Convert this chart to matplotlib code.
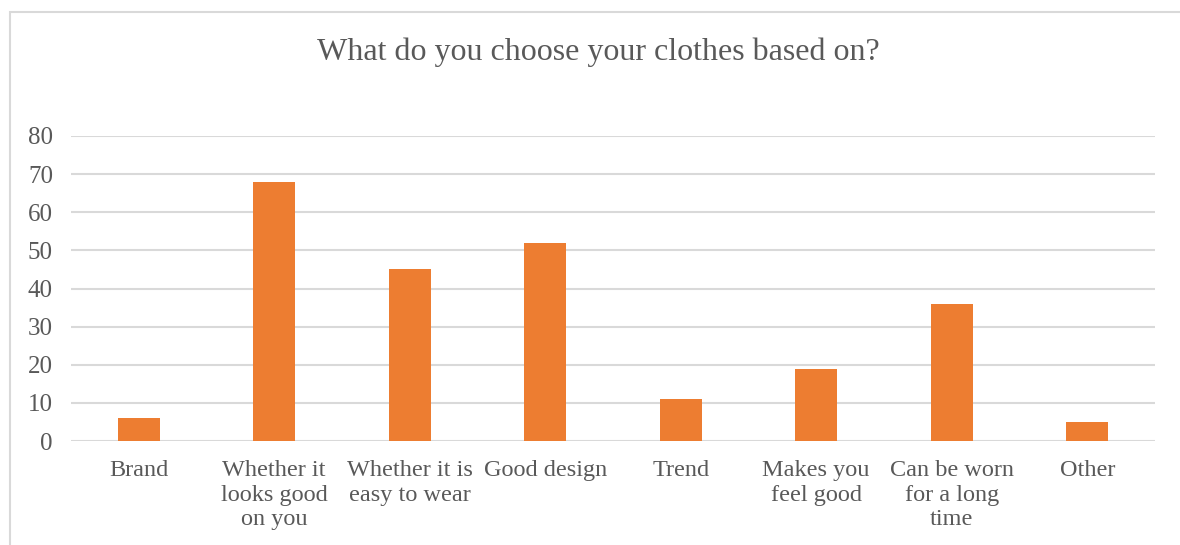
import matplotlib
matplotlib.use('Agg')
import matplotlib.pyplot as plt
from matplotlib.patches import Rectangle

categories = ["Brand", "Whether it\nlooks good\non you", "Whether it is\neasy to wear",
              "Good design", "Trend", "Makes you\nfeel good",
              "Can be worn\nfor a long\ntime", "Other"]
counts = [6, 68, 45, 52, 11, 19, 36, 5]
yticks = [0, 10, 20, 30, 40, 50, 60, 70, 80]

text_color = "#595959"
grid_color = "#D9D9D9"
bar_color = "#ED7D31"

plt.rcParams['font.family'] = ['Liberation Serif', 'DejaVu Serif']

fig = plt.figure(figsize=(11.8, 5.45), dpi=100)
# chart outline (right/bottom edges run past the canvas)
fig.patches.append(Rectangle((10 / 1180, -0.1), 1.2, 1 - 12 / 545 + 0.1,
                             transform=fig.transFigure, fill=False,
                             edgecolor=grid_color, linewidth=1.5))

ax = fig.add_axes([71 / 1180, 1 - 441 / 545, (1155 - 71) / 1180, (441 - 136) / 545])
x = list(range(len(categories)))
ax.bar(x, counts, width=0.313, color=bar_color, zorder=3)
ax.set_xlim(-0.5, len(categories) - 0.5)
ax.set_ylim(0, 80)
ax.set_yticks(yticks)
ax.set_xticks(x)
ax.set_xticklabels(categories, fontsize=17.5, color=text_color, linespacing=1.22)
ax.tick_params(axis='y', length=0, labelsize=18, labelcolor=text_color, pad=13)
ax.tick_params(axis='x', length=0, pad=14)
ax.grid(True, axis='y', color=grid_color, linewidth=1.5, zorder=0)
for spine in ax.spines.values():
    spine.set_visible(False)

fig.text(598 / 1180, 1 - 52 / 545, "What do you choose your clothes based on?",
         ha='center', va='center', fontsize=23, color=text_color)

plt.savefig("out.png", dpi=100)
